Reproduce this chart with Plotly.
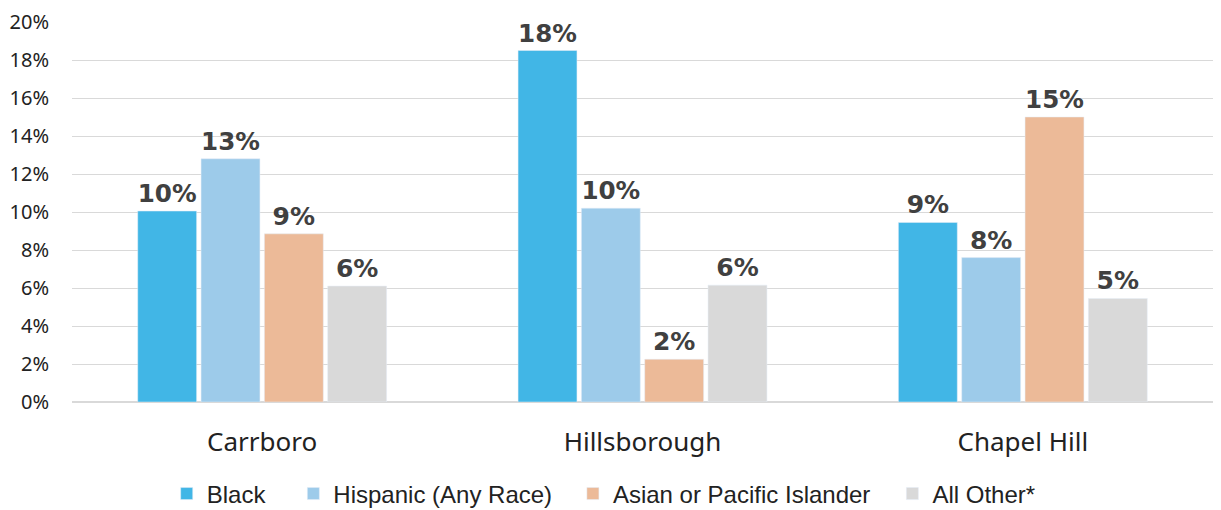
import plotly.graph_objects as go

categories = ["Carrboro", "Hillsborough", "Chapel Hill"]
series_names = ["Black", "Hispanic (Any Race)", "Asian or Pacific Islander", "All Other*"]
black = [0.1005, 0.185, 0.0945]
hispanic = [0.128, 0.102, 0.076]
asian = [0.0885, 0.0225, 0.150]
other = [0.061, 0.0615, 0.0545]
colors = ["#41b6e6", "#9dcbea", "#ecba98", "#d9d9d9"]
legend_ids = ["legend", "legend2", "legend3", "legend4"]
legend_x = [0.083, 0.194, 0.439, 0.719]

fig = go.Figure()
for name, vals, col, lid in zip(series_names, [black, hispanic, asian, other], colors, legend_ids):
    fig.add_trace(go.Bar(
        x=categories, y=vals, name=name, marker_color=col, legend=lid,
        text=[f"{round(v*100):.0f}%" for v in vals],
        textposition="outside", cliponaxis=False,
        textfont=dict(family="DejaVu Sans", size=25, color="#404040", weight="bold"),
    ))

legend_style = dict(orientation="h", y=-0.242, yanchor="middle", xanchor="left",
                    font=dict(family="Liberation Sans", size=24, color="#222222"),
                    itemwidth=30, bgcolor="rgba(0,0,0,0)")
layout_legends = {lid: dict(x=lx, **legend_style) for lid, lx in zip(legend_ids, legend_x)}

fig.update_layout(
    barmode="group", bargap=0.334, bargroupgap=0.07,
    width=1213, height=530,
    margin=dict(l=64, r=8, t=14, b=136),
    plot_bgcolor="white", paper_bgcolor="white",
    font=dict(family="Open Sans", color="#222222"),
    showlegend=True,
    **layout_legends,
)
fig.update_yaxes(range=[0, 0.2], tick0=0, dtick=0.02, tickformat=".0%", showgrid=True,
                 gridcolor="#d9d9d9", zeroline=True, zerolinecolor="#d9d9d9",
                 tickfont=dict(family="Noto Sans", size=20, color="#222222"),
                 ticklabelstandoff=22, automargin=False, ticklabeloverflow="allow")
fig.update_xaxes(tickfont=dict(family="Noto Sans", size=26, color="#222222"),
                 showline=False, ticks="", ticklabelstandoff=22, automargin=False)

fig.write_html("out.html")
